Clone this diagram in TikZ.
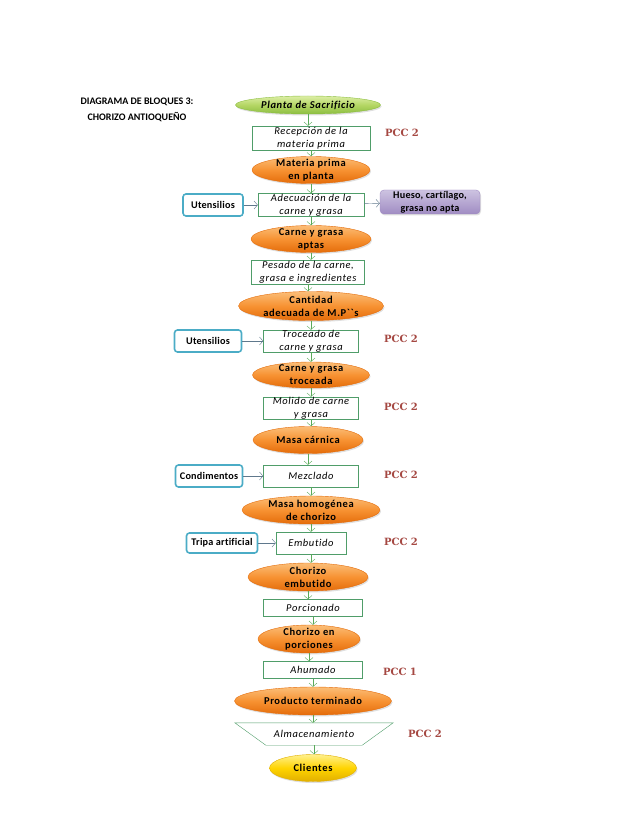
\documentclass[tikz,border=0pt]{standalone}
\usepackage{fontspec}
\setmainfont{Carlito}
\newfontfamily\boxfam{Carlito}[LetterSpace=6,Ligatures={NoCommon}]
\newfontfamily\extfam{Carlito}[LetterSpace=2,Ligatures={NoCommon}]
\newfontfamily\pccfont{DejaVu Serif}
\usetikzlibrary{arrows.meta,shapes.geometric,shadows}

\definecolor{boxgreen}{RGB}{79,157,105}
\definecolor{arrgreen}{RGB}{90,170,90}
\definecolor{sidegray}{RGB}{95,120,140}
\definecolor{extblue}{RGB}{75,172,198}
\definecolor{orlight}{RGB}{251,190,120}
\definecolor{ormid}{RGB}{247,146,50}
\definecolor{ordark}{RGB}{228,108,10}
\definecolor{grlight}{RGB}{220,238,165}
\definecolor{grmid}{RGB}{180,214,100}
\definecolor{grdark}{RGB}{140,190,65}
\definecolor{yelight}{RGB}{255,240,140}
\definecolor{yemid}{RGB}{255,212,0}
\definecolor{yedark}{RGB}{225,175,0}
\definecolor{pulight}{RGB}{205,195,225}
\definecolor{pudark}{RGB}{160,140,195}
\definecolor{pccred}{RGB}{165,72,66}

\newcommand{\boxfont}{\boxfam\fontsize{10.5}{13}\selectfont}
\newcommand{\extfont}{\extfam\fontsize{10.2}{13}\selectfont}

\begin{document}
\begin{tikzpicture}
  [x=1pt,y=-1pt,
   every node/.style={font=\boxfont,align=center,inner xsep=1pt,inner ysep=0pt},
   proc/.style={rectangle,draw=boxgreen,fill=white,font=\boxfont\itshape},
   shade/.style={drop shadow={opacity=.25,shadow xshift=1pt,shadow yshift=-1.5pt}},
   prodell/.style={ellipse,draw=ordark,top color=orlight,bottom color=ordark,middle color=ormid,
     inner ysep=-3pt,font=\boxfont\bfseries,shade},
   ext/.style={rectangle,rounded corners=3pt,draw=extblue,line width=1.6pt,fill=white,font=\extfont\bfseries},
   pcc/.style={font=\pccfont\bfseries\fontsize{10}{12}\selectfont,text=pccred},
   flow/.style={draw=arrgreen,-{Straight Barb[length=3.5pt,width=8pt]}},
   side/.style={draw=sidegray,-{Straight Barb[length=3.5pt,width=8pt]}}]
  \useasboundingbox (0,0) rectangle (638,826);

  \node (title) at (137,110) [font=\rmfamily\fontsize{10}{16}\selectfont\bfseries] {DIAGRAMA DE BLOQUES 3:\\CHORIZO ANTIOQUEÑO};

  % main line
  \node (planta) at (308,105) [ellipse,draw=grdark,top color=grlight,bottom color=grdark,middle color=grmid,
    inner ysep=-3pt,minimum width=145,minimum height=18,font=\boxfont\bfseries\itshape,shade] {Planta de Sacrificio};
  \node (recep) at (311,138) [proc,minimum width=118,minimum height=24] {Recepción de la\\materia prima};
  \node (mprima) at (311,170) [prodell,minimum width=118,minimum height=27] {Materia prima\\en planta};
  \node (adec) at (311,205) [proc,minimum width=106,minimum height=23] {Adecuación de la\\carne y grasa};
  \node (aptas) at (311,239) [prodell,minimum width=120,minimum height=27] {Carne y grasa\\aptas};
  \node (pesado) at (308,272) [proc,minimum width=113,minimum height=24] {Pesado de la carne,\\grasa e ingredientes};
  \node (cant) at (311,306) [prodell,minimum width=145,minimum height=29] {Cantidad\\adecuada de M.P\char"60\char"60s};
  \node (troc) at (311,341) [proc,minimum width=95,minimum height=22] {Troceado de\\carne y grasa};
  \node (trocd) at (311,375) [prodell,minimum width=117,minimum height=26] {Carne y grasa\\troceada};
  \node (mol) at (311,408) [proc,minimum width=95,minimum height=22] {Molido de carne\\y grasa};
  \node (masa) at (308,440) [prodell,minimum width=110,minimum height=27] {Masa cárnica};
  \node (mezc) at (311,476) [proc,minimum width=95,minimum height=22] {Mezclado};
  \node (homo) at (311,510) [prodell,minimum width=138,minimum height=28] {Masa homogénea\\de chorizo};
  \node (embu) at (311,543) [proc,minimum width=70,minimum height=22] {Embutido};
  \node (chemb) at (308,577) [prodell,minimum width=120,minimum height=28] {Chorizo\\embutido};
  \node (porc) at (313,608) [proc,minimum width=99,minimum height=17] {Porcionado};
  \node (chpor) at (309,639) [prodell,minimum width=102,minimum height=28] {Chorizo en\\porciones};
  \node (ahum) at (313,670) [proc,minimum width=99,minimum height=17] {Ahumado};
  \node (prod) at (313,701) [prodell,minimum width=157,minimum height=28] {Producto terminado};
  \node (alm) at (314,734) [minimum width=158,minimum height=22,font=\boxfont\itshape] {Almacenamiento};
  \draw[boxgreen] (alm.north west) -- (alm.north east) -- ([xshift=-31pt]alm.south east)
    -- ([xshift=31pt]alm.south west) -- cycle;
  \node (cli) at (313,768) [ellipse,draw=yedark,top color=yelight,bottom color=yedark,middle color=yemid,
    inner ysep=-3pt,minimum width=87,minimum height=27,font=\boxfont\bfseries,shade] {Clientes};

  % side inputs and outputs
  \node (ut1) at (213,205) [ext,minimum width=60,minimum height=22] {Utensilios};
  \node (hueso) at (430,202) [rectangle,rounded corners=4pt,draw=pudark,top color=pulight,bottom color=pudark,
    minimum width=100,minimum height=24,font=\extfont\bfseries,shade] {Hueso, cartílago,\\grasa no apta};
  \node (ut2) at (208,341) [ext,minimum width=67,minimum height=22] {Utensilios};
  \node (cond) at (209,476) [ext,minimum width=67,minimum height=22] {Condimentos};
  \node (tripa) at (222,543) [ext,minimum width=71,minimum height=20] {Tripa artificial};

  % control points
  \node (pcc1) at (402,133) [pcc] {PCC 2};
  \node (pcc2) at (401,339) [pcc] {PCC 2};
  \node (pcc3) at (401,407) [pcc] {PCC 2};
  \node (pcc4) at (401,475) [pcc] {PCC 2};
  \node (pcc5) at (401,542) [pcc] {PCC 2};
  \node (pcc6) at (400,672) [pcc] {PCC 1};
  \node (pcc7) at (425,734) [pcc] {PCC 2};

\foreach \from/\to in
{planta/recep, recep/mprima, mprima/adec, adec/aptas, aptas/pesado, pesado/cant, cant/troc,
 troc/trocd, trocd/mol, mol/masa, masa/mezc, mezc/homo, homo/embu, embu/chemb, chemb/porc,
 porc/chpor, chpor/ahum, ahum/prod, prod/alm, alm/cli}
    \draw[flow] (\from.south) -- (\from.south |- \to.north);

\foreach \from/\to in
{ut1/adec, adec/hueso, ut2/troc, cond/mezc, tripa/embu}
    \draw[side] (\from) -- (\to);
\end{tikzpicture}
\end{document}
